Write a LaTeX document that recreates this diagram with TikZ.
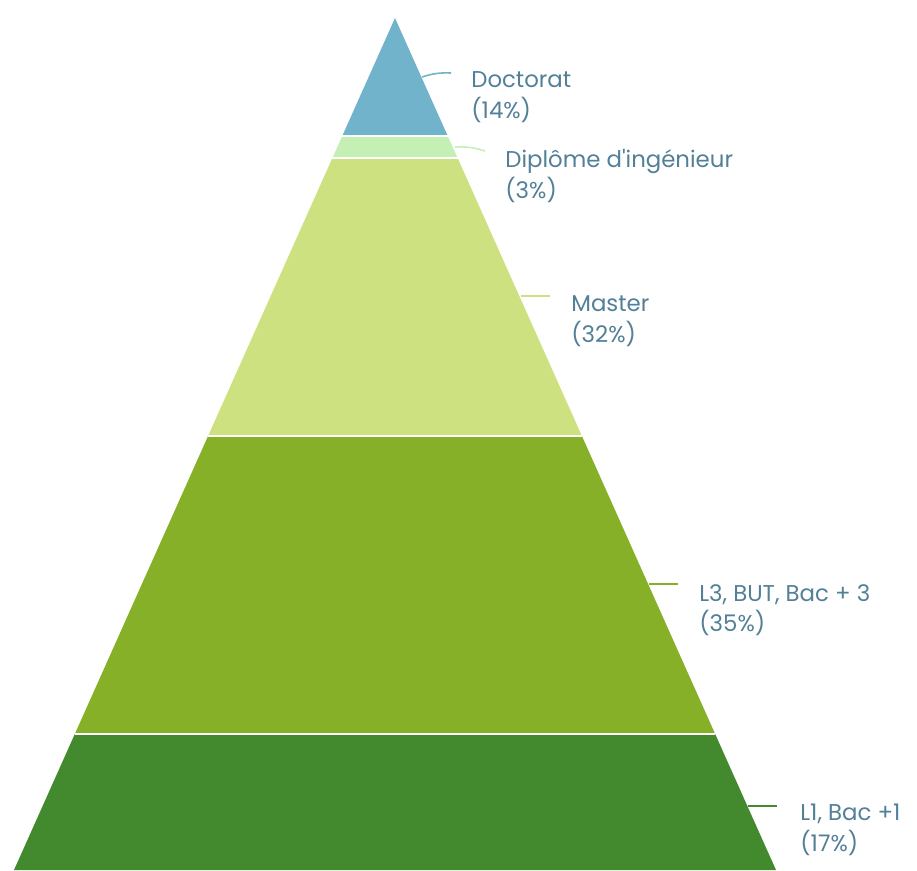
\documentclass[tikz,border=0pt]{standalone}
\usepackage{fontspec}
\setmainfont{Poppins}
\usetikzlibrary{calc,positioning}

\definecolor{doccol}{RGB}{112,179,203}
\definecolor{ingcol}{RGB}{197,240,181}
\definecolor{mascol}{RGB}{205,225,128}
\definecolor{licol}{RGB}{133,176,39}
\definecolor{bacol}{RGB}{67,138,46}
\definecolor{txtcol}{RGB}{82,128,150}

\tikzset{
	sep/.style={draw=white, line width=1.2pt},
	lbl/.style={text=txtcol, align=left, inner sep=0pt, anchor=west, font=\fontsize{13}{17.4}\selectfont},
	lead/.style={line width=0.9pt}
}

\begin{document}
\begin{tikzpicture}[x=0.02cm,y=-0.02cm]
		\useasboundingbox (0,0) rectangle (917,870);
		\coordinate (apex) at (395,18);
		\coordinate (bl) at (14,870);
		\coordinate (br) at (776,870);
		\coordinate (l1) at ($(apex)!0.1385!(bl)$);
		\coordinate (r1) at ($(apex)!0.1385!(br)$);
		\coordinate (l2) at ($(apex)!0.1643!(bl)$);
		\coordinate (r2) at ($(apex)!0.1643!(br)$);
		\coordinate (l3) at ($(apex)!0.4906!(bl)$);
		\coordinate (r3) at ($(apex)!0.4906!(br)$);
		\coordinate (l4) at ($(apex)!0.8404!(bl)$);
		\coordinate (r4) at ($(apex)!0.8404!(br)$);
		\fill[doccol] (apex) -- (r1) -- (l1) -- cycle;
		\fill[ingcol] (l1) -- (r1) -- (r2) -- (l2) -- cycle;
		\fill[mascol] (l2) -- (r2) -- (r3) -- (l3) -- cycle;
		\fill[licol] (l3) -- (r3) -- (r4) -- (l4) -- cycle;
		\fill[bacol] (l4) -- (r4) -- (br) -- (bl) -- cycle;
		\draw[sep] (l1) -- (r1);
		\draw[sep] (l2) -- (r2);
		\draw[sep] (l3) -- (r3);
		\draw[sep] (l4) -- (r4);
		\coordinate (docs) at (422,77);
		\coordinate (doce) at (451,73);
		\coordinate (ings) at (455,147);
		\coordinate (inge) at (485,151);
		\coordinate (mass) at (521,296);
		\coordinate (mase) at (550,296);
		\coordinate (lis) at (649,584);
		\coordinate (lie) at (678,584);
		\coordinate (bas) at (748,806);
		\coordinate (bae) at (777,806);
		\node[lbl] (doc) at (471,97) {Doctorat\\(14\%)};
		\node[lbl] (ing) at (505,176) {Diplôme d\textquotesingle ingénieur\\(3\%)};
		\node[lbl] (mas) at (571,321) {Master\\(32\%)};
		\node[lbl] (li) at (699,610) {L3, BUT, Bac + 3\\(35\%)};
		\node[lbl] (ba) at (800,830) {L1, Bac +1\\(17\%)};
		\draw[lead, doccol] (docs) to[bend left=10] (doce);
		\draw[lead, ingcol] (ings) to[bend left=10] (inge);
		\draw[lead, mascol] (mass) -- (mase);
		\draw[lead, licol] (lis) -- (lie);
		\draw[lead, bacol] (bas) -- (bae);
	\end{tikzpicture}
\end{document}
